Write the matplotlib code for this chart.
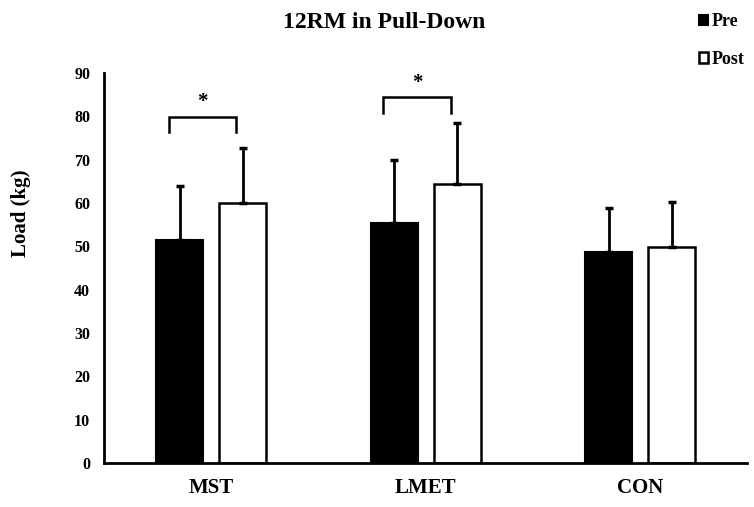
import numpy as np
import matplotlib
matplotlib.use('Agg')
import matplotlib.pyplot as plt

plt.rcParams['font.family'] = 'Liberation Serif'
plt.rcParams['font.weight'] = 'bold'

grupos = ['MST', 'LMET', 'CON']
pre = [51.5, 55.4, 48.7]
pre_sd = [12.5, 14.6, 10.2]
post = [60.0, 64.4, 49.9]
post_sd = [12.7, 14.1, 10.4]

# brackets de significancia (grupo, altura)
sig_grupos = [0, 1]
sig_altura = [79.9, 84.5]
sig_patas = [76.4, 80.8]

fig = plt.figure(figsize=(7.54, 5.07), dpi=100)
ax = fig.add_axes([0.138, 0.087, 0.853, 0.769])

x = np.arange(len(grupos))
w = 0.22
off = 0.147

b1 = ax.bar(x - off, pre, w, color='black', edgecolor='black', linewidth=1.5, label='Pre')
b2 = ax.bar(x + off, post, w, color='white', edgecolor='black', linewidth=1.8, label='Post')

ax.errorbar(x - off, pre, yerr=[np.zeros(3), pre_sd], fmt='none', ecolor='black',
            elinewidth=2, capsize=3, capthick=2.5)
ax.errorbar(x + off, post, yerr=[np.zeros(3), post_sd], fmt='none', ecolor='black',
            elinewidth=2, capsize=3, capthick=2.5)

for g, h, p in zip(sig_grupos, sig_altura, sig_patas):
  xl = g - off - 0.05
  xr = g + off - 0.03
  ax.plot([xl, xl, xr, xr], [p, h, h, p], color='black', lw=1.8, solid_joinstyle='miter')
  ax.text((xl + xr) / 2, h + 1.0, '*', ha='center', va='bottom', fontsize=15, fontweight='bold')

ax.set_xlim(-0.5, 2.5)
ax.set_ylim(0, 90)
ax.set_yticks(range(0, 91, 10))
ax.set_xticks(x)
ax.set_xticklabels(grupos, fontsize=15, fontweight='bold')
ax.tick_params(axis='both', length=0)
ax.tick_params(axis='y', labelsize=11.5, pad=10)
ax.tick_params(axis='x', pad=11)
for s in ['top', 'right']:
  ax.spines[s].set_visible(False)
for s in ['left', 'bottom']:
  ax.spines[s].set_linewidth(2)

fig.text(21 / 754, 1 - 213 / 507, 'Load (kg)', rotation=90, ha='center', va='center',
         fontsize=15, fontweight='bold')
fig.text(0.51, 0.955, '12RM in Pull-Down', ha='center', va='center', fontsize=17, fontweight='bold')

fig.legend(handles=[b1, b2], loc='upper left', bbox_to_anchor=(0.905, 1.006), frameon=False,
           fontsize=13, handlelength=0.5, handleheight=0.5, handletextpad=0.2, labelspacing=1.15)

plt.savefig('out.png', dpi=100)
